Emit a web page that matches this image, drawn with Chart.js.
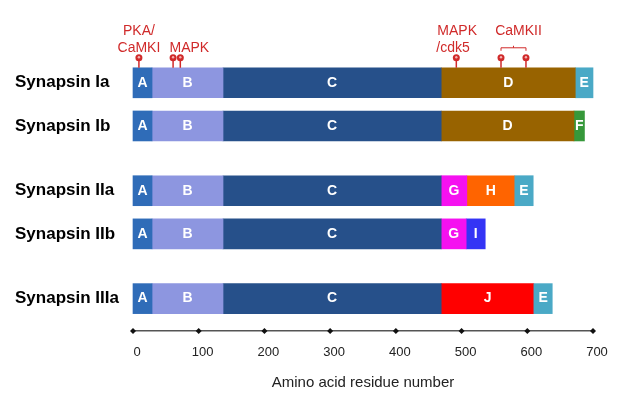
<!DOCTYPE html>
<html>
<head>
<meta charset="utf-8">
<script src="https://cdn.jsdelivr.net/npm/chart.js@4/dist/chart.umd.min.js"></script>
<style>
  html, body { margin: 0; padding: 0; background: #fff; }
  #wrap { width: 632px; height: 402px; }
</style>
</head>
<body>
<div id="wrap"><canvas id="chart" width="632" height="402"></canvas></div>
<script>
// rows (blank labels are spacer rows between the groups)
const rowLabels = ['Synapsin Ia', '', 'Synapsin Ib', '', '', 'Synapsin IIa', '', 'Synapsin IIb', '', '', 'Synapsin IIIa', ''];
const proteins = ['Synapsin Ia', 'Synapsin Ib', 'Synapsin IIa', 'Synapsin IIb', 'Synapsin IIIa'];

// domain spans [start, end] per protein (same order as proteins), null = absent
const domainA = [[0, 29], [0, 29], [0, 29], [0, 29], [0, 29]];
const domainB = [[29, 137], [29, 137], [29, 137], [29, 137], [29, 137]];
const domainC = [[137, 469], [137, 469], [137, 469], [137, 469], [137, 469]];
const domainD = [[469, 673], [469, 671], null, null, null];
const domainE = [[673, 700], null, [581, 609], null, [610, 638]];
const domainF = [null, [671, 687], null, null, null];
const domainG = [null, null, [469, 508], [469, 507], null];
const domainH = [null, null, [508, 581], null, null];
const domainI = [null, null, null, [507, 536], null];
const domainJ = [null, null, null, null, [469, 610]];

// phosphorylation sites on synapsin Ia
const phosphoSites = [9, 61, 72, 492, 560, 598];

const xTicks = [0, 100, 200, 300, 400, 500, 600, 700];

const domains = [
  { name: 'A', spans: domainA, color: '#2f6cb8' },
  { name: 'B', spans: domainB, color: '#8d96e0' },
  { name: 'C', spans: domainC, color: '#26508a' },
  { name: 'D', spans: domainD, color: '#986300' },
  { name: 'E', spans: domainE, color: '#4aa9c6' },
  { name: 'F', spans: domainF, color: '#36983a' },
  { name: 'G', spans: domainG, color: '#f511f0' },
  { name: 'H', spans: domainH, color: '#ff6400' },
  { name: 'I', spans: domainI, color: '#3434f5' },
  { name: 'J', spans: domainJ, color: '#ff0000' }
];

function toRows(spans) {
  return rowLabels.map(lbl => {
    const i = proteins.indexOf(lbl);
    return i >= 0 ? spans[i] : null;
  });
}

const RED = '#d02a2a';

// letters inside each domain
const domainLetters = {
  id: 'domainLetters',
  afterDatasetsDraw(chart) {
    const ctx = chart.ctx;
    ctx.save();
    ctx.font = 'bold 14px Arial, "Liberation Sans", sans-serif';
    ctx.fillStyle = '#ffffff';
    ctx.textAlign = 'center';
    ctx.textBaseline = 'middle';
    chart.data.datasets.forEach((ds, di) => {
      chart.getDatasetMeta(di).data.forEach((el, i) => {
        if (!ds.data[i]) return;
        ctx.fillText(ds.label, (el.x + el.base) / 2, el.y);
      });
    });
    ctx.restore();
  }
};

// phosphorylation pins + kinase labels above synapsin Ia
const phosphoMarks = {
  id: 'phosphoMarks',
  afterDraw(chart) {
    const ctx = chart.ctx;
    const x = chart.scales.x;
    const el = chart.getDatasetMeta(0).data[0];
    const top = el.y - 15;
    ctx.save();
    ctx.strokeStyle = RED;
    ctx.fillStyle = RED;
    ctx.lineWidth = 1.5;
    phosphoSites.forEach(s => {
      const px = x.getPixelForValue(s);
      ctx.beginPath();
      ctx.moveTo(px, top);
      ctx.lineTo(px, top - 9);
      ctx.stroke();
      ctx.beginPath();
      ctx.arc(px, top - 10, 3.5, 0, Math.PI * 2);
      ctx.fill();
      ctx.fillStyle = '#f4b0b0';
      ctx.beginPath();
      ctx.arc(px, top - 10.5, 1.2, 0, Math.PI * 2);
      ctx.fill();
      ctx.fillStyle = RED;
    });

    ctx.font = '14px Arial, "Liberation Sans", sans-serif';
    ctx.textBaseline = 'middle';
    ctx.textAlign = 'center';
    const p = v => x.getPixelForValue(v);
    ctx.fillText('PKA/', p(phosphoSites[0]), top - 37);
    ctx.fillText('CaMKI', p(phosphoSites[0]), top - 20);
    ctx.fillText('MAPK', p(phosphoSites[2]) + 9, top - 20);
    ctx.textAlign = 'left';
    ctx.fillText('MAPK', p(phosphoSites[3]) - 19, top - 37);
    ctx.fillText('/cdk5', p(phosphoSites[3]) - 20, top - 20);
    ctx.textAlign = 'center';
    const a = p(phosphoSites[4]), b = p(phosphoSites[5]);
    ctx.fillText('CaMKII', (a + b) / 2 + 5, top - 37);
    // bracket
    ctx.lineWidth = 1;
    ctx.beginPath();
    ctx.moveTo(a, top - 17);
    ctx.lineTo(a, top - 20);
    ctx.lineTo(b, top - 20);
    ctx.lineTo(b, top - 17);
    ctx.moveTo((a + b) / 2, top - 20);
    ctx.lineTo((a + b) / 2, top - 22);
    ctx.stroke();
    ctx.restore();
  }
};

// diamond markers on the residue axis
const axisDiamonds = {
  id: 'axisDiamonds',
  afterDraw(chart) {
    const ctx = chart.ctx;
    const x = chart.scales.x;
    const y = chart.chartArea.bottom;
    ctx.save();
    ctx.fillStyle = '#111';
    xTicks.forEach(t => {
      const px = x.getPixelForValue(t);
      ctx.beginPath();
      ctx.moveTo(px, y - 3);
      ctx.lineTo(px + 3, y);
      ctx.lineTo(px, y + 3);
      ctx.lineTo(px - 3, y);
      ctx.closePath();
      ctx.fill();
    });
    ctx.restore();
  }
};

new Chart(document.getElementById('chart'), {
  type: 'bar',
  data: {
    labels: rowLabels,
    datasets: domains.map(d => ({
      label: d.name,
      data: toRows(d.spans),
      backgroundColor: d.color,
      borderWidth: 0,
      barThickness: 30,
      grouped: false,
      clip: false
    }))
  },
  options: {
    indexAxis: 'y',
    responsive: false,
    animation: false,
    layout: { padding: { left: 15, right: 39, top: 72, bottom: 0 } },
    plugins: {
      legend: { display: false },
      tooltip: { enabled: false }
    },
    scales: {
      x: {
        min: 0,
        max: 700,
        afterBuildTicks: s => { s.ticks = xTicks.map(v => ({ value: v })); },
        afterFit: s => { s.height = 71; },
        grid: { display: false },
        border: { color: '#555', width: 1.5 },
        ticks: {
          color: '#222',
          padding: 6,
          labelOffset: 4,
          font: { family: 'Arial, "Liberation Sans", sans-serif', size: 13 }
        },
        title: {
          display: true,
          text: 'Amino acid residue number',
          color: '#222',
          padding: { top: 4, bottom: 10 },
          font: { family: 'Arial, "Liberation Sans", sans-serif', size: 15 }
        }
      },
      y: {
        afterFit: s => { s.width = 118; },
        grid: { display: false },
        border: { display: false },
        ticks: {
          crossAlign: 'far',
          color: '#000',
          autoSkip: false,
          font: { family: 'Arial, "Liberation Sans", sans-serif', size: 17, weight: 'bold' }
        }
      }
    }
  },
  plugins: [domainLetters, phosphoMarks, axisDiamonds]
});
</script>
</body>
</html>
